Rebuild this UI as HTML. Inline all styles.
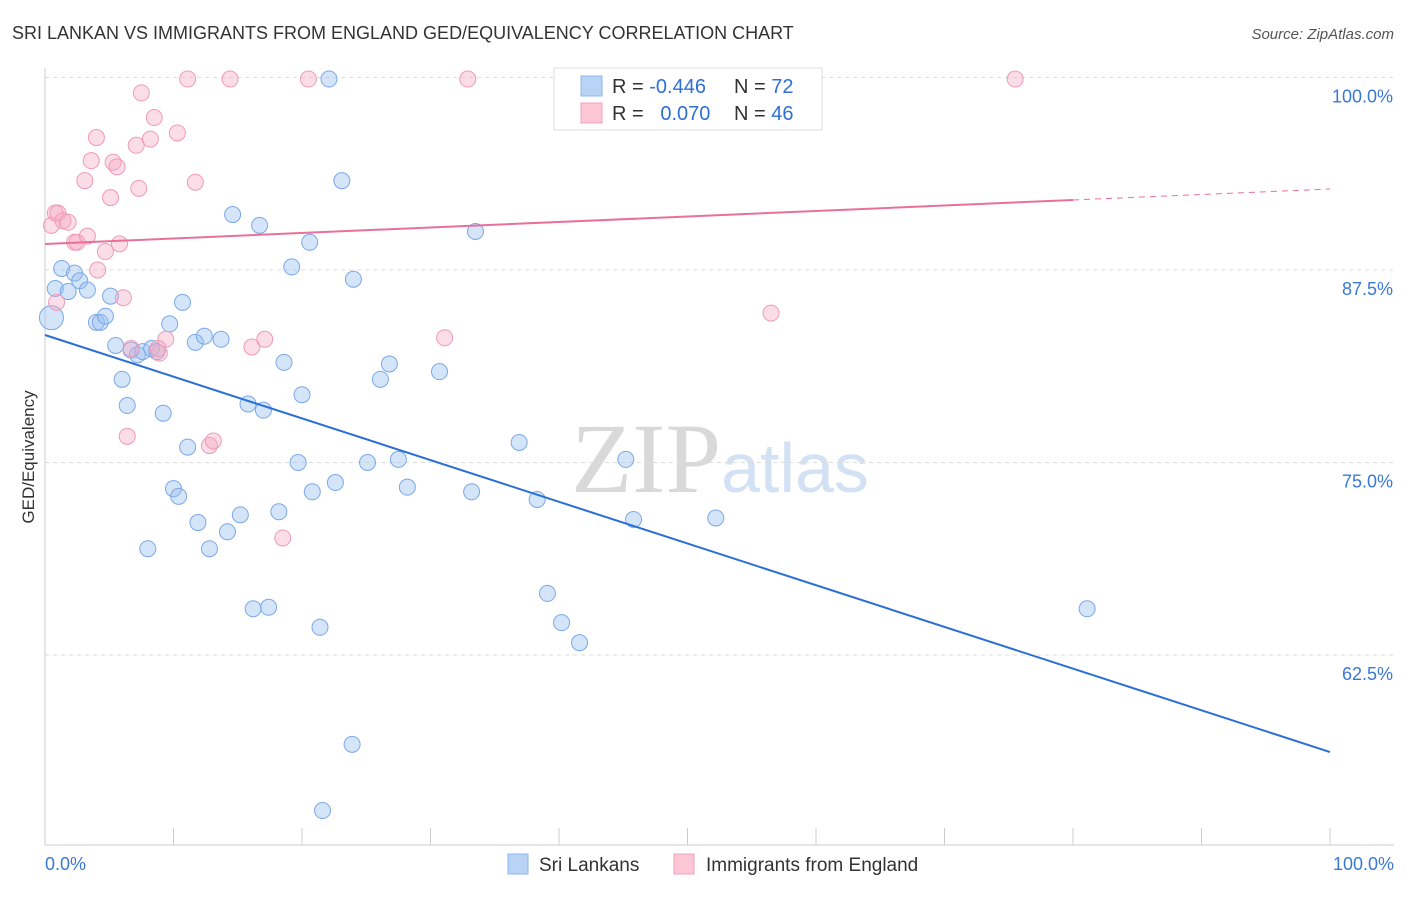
<!DOCTYPE html>
<html><head><meta charset="utf-8"><style>
body{margin:0;background:#fff;font-family:"Liberation Sans",sans-serif;}
svg text{font-family:"Liberation Sans",sans-serif;}
</style></head><body>
<svg id="chart" width="1406" height="892" xmlns="http://www.w3.org/2000/svg">
<text x="12" y="39" font-size="18" fill="#333">SRI LANKAN VS IMMIGRANTS FROM ENGLAND GED/EQUIVALENCY CORRELATION CHART</text>
<text x="1394" y="39" font-size="15" fill="#555" font-style="italic" text-anchor="end">Source: ZipAtlas.com</text>
<text x="720" y="492" font-size="100" text-anchor="middle" fill="#dcdcdc" style="font-family:'Liberation Serif',serif"><tspan fill="#d9d9d9">ZIP</tspan><tspan fill="#d3e1f4" style="font-family:'Liberation Sans',sans-serif" font-size="70">atlas</tspan></text>
<g id="grid"></g>
<line x1="45" y1="68" x2="45" y2="845" stroke="#ccc"/>
<line x1="45" y1="845" x2="1394" y2="845" stroke="#ccc"/>
<g id="xticks"></g>
<text transform="translate(34,457) rotate(-90)" font-size="17" fill="#333" text-anchor="middle">GED/Equivalency</text>
<text x="45" y="870" font-size="18" fill="#3a78d8">0.0%</text>
<text x="1394" y="870" font-size="18" fill="#3a78d8" text-anchor="end">100.0%</text>
<g id="pts"></g>
<g id="lines"></g>
<g>
<rect x="554" y="68" width="268" height="62" fill="#fff" stroke="#ddd"/>
<rect x="581" y="76" width="21" height="20" fill="#b8d3f5" stroke="#8db5ea"/>
<rect x="581" y="103" width="21" height="20" fill="#fcc6d6" stroke="#f2a2bc"/>
<text x="612" y="93" font-size="20" fill="#333">R = <tspan fill="#2f6fd6">-0.446</tspan></text>
<text x="734" y="93" font-size="20" fill="#333">N = <tspan fill="#2f6fd6">72</tspan></text>
<text x="612" y="120" font-size="20" fill="#333">R = <tspan fill="#2f6fd6">&#160; 0.070</tspan></text>
<text x="734" y="120" font-size="20" fill="#333">N = <tspan fill="#2f6fd6">46</tspan></text>
</g>
<g>
<rect x="508" y="854" width="20" height="20" fill="#b8d3f5" stroke="#8db5ea"/>
<text x="539" y="871" font-size="19" fill="#333">Sri Lankans</text>
<rect x="674" y="854" width="20" height="20" fill="#fcc6d6" stroke="#f2a2bc"/>
<text x="706" y="871" font-size="19" fill="#333">Immigrants from England</text>
</g>
</svg>
<script>
const yTicks=[100,87.5,75,62.5];
const yTickLabels=["100.0%","87.5%","75.0%","62.5%"];
const blueX=[0.5,0.8,1.3,1.8,2.3,2.7,3.3,4.0,4.3,4.7,5.1,5.5,6.0,6.4,6.7,7.2,7.6,8.3,8.7,9.2,9.7,10.0,10.4,10.7,11.1,11.7,11.9,12.4,12.8,13.7,14.2,14.6,15.2,15.8,16.2,16.7,17.0,17.4,18.2,18.6,19.2,19.7,20.0,20.6,20.8,21.4,22.1,22.6,23.1,23.9,24.0,21.6,25.1,26.1,26.8,27.5,28.2,30.7,33.2,33.5,36.9,38.3,39.1,40.2,41.6,45.2,45.8,52.2,81.1,8.0];
const blueY=[84.4,86.3,87.6,86.1,87.3,86.8,86.2,84.1,84.1,84.5,85.8,82.6,80.4,78.7,82.3,82.0,82.2,82.4,82.2,78.2,84.0,73.3,72.8,85.4,76.0,82.8,71.1,83.2,69.4,83.0,70.5,91.1,71.6,78.8,65.5,90.4,78.4,65.6,71.8,81.5,87.7,75.0,79.4,89.3,73.1,64.3,99.9,73.7,93.3,56.7,86.9,52.4,75.0,80.4,81.4,75.2,73.4,80.9,73.1,90.0,76.3,72.6,66.5,64.6,63.3,75.2,71.3,71.4,65.5,69.4];
const pinkX=[0.5,0.8,1.0,1.4,1.8,0.9,2.3,2.5,3.1,3.3,3.6,4.0,4.1,4.7,5.1,5.3,5.6,5.8,6.1,6.4,6.7,7.1,7.3,7.5,8.2,8.5,8.9,9.4,10.3,11.1,11.7,12.8,13.1,14.4,16.1,17.1,18.5,20.5,31.1,32.9,56.5,75.5,8.8];
const pinkY=[90.4,91.2,91.2,90.7,90.6,85.4,89.3,89.3,93.3,89.7,94.6,96.1,87.5,88.7,92.2,94.5,94.2,89.2,85.7,76.7,82.4,95.6,92.8,99.0,96.0,97.4,82.1,83.0,96.4,99.9,93.2,76.1,76.4,99.9,82.5,83.0,70.1,99.9,83.1,99.9,84.7,99.9,82.4];
const blueTrend=[83.28,56.2];
const pinkTrend=[89.19,92.76];
const pinkSolidEnd=80;
const NS="http://www.w3.org/2000/svg";
const X=v=>45+v*12.85, Y=v=>77.5+(100-v)*15.4;
function mk(tag,at,parent){const e=document.createElementNS(NS,tag);for(const k in at)e.setAttribute(k,at[k]);document.getElementById(parent).appendChild(e);return e;}
yTicks.forEach((t,i)=>{
 const l=mk('line',{x1:45,x2:1394,y1:Y(t),y2:Y(t),stroke:'#ddd','stroke-dasharray':'4,4'},'grid');
 
 
 const tx=mk('text',{x:1393,y:Y(t)+25,'font-size':18,fill:'#3a78d8','text-anchor':'end'},'grid');
 tx.textContent=yTickLabels[i];
 
 
});
for(let k=1;k<=10;k++){
 const l=mk('line',{x1:X(k*10),x2:X(k*10),y1:828,y2:845,stroke:'#ccc'},'xticks');
 
 
}
blueX.forEach((v,i)=>{
 const c=mk('circle',{cx:X(v),cy:Y(blueY[i]),r:i==0?12:8,fill:'rgba(150,190,240,0.4)',stroke:'#7aa8e8','stroke-width':1},'pts');
 
 
});
pinkX.forEach((v,i)=>{
 const c=mk('circle',{cx:X(v),cy:Y(pinkY[i]),r:8,fill:'rgba(245,170,195,0.4)',stroke:'#f09ab8','stroke-width':1},'pts');
 
 
});
const b=mk('line',{x1:X(0),y1:Y(blueTrend[0]),x2:X(100),y2:Y(blueTrend[1]),stroke:'#2a6fd6','stroke-width':2},'lines');


const pm=pinkTrend[0]+(pinkTrend[1]-pinkTrend[0])*pinkSolidEnd/100;
const p1=mk('line',{x1:X(0),y1:Y(pinkTrend[0]),x2:X(pinkSolidEnd),y2:Y(pm),stroke:'#e8709a','stroke-width':2},'lines');


const p2=mk('line',{x1:X(pinkSolidEnd),y1:Y(pm),x2:X(100),y2:Y(pinkTrend[1]),stroke:'#e8709a','stroke-width':1,'stroke-dasharray':'6,5'},'lines');


</script>
</body></html>
